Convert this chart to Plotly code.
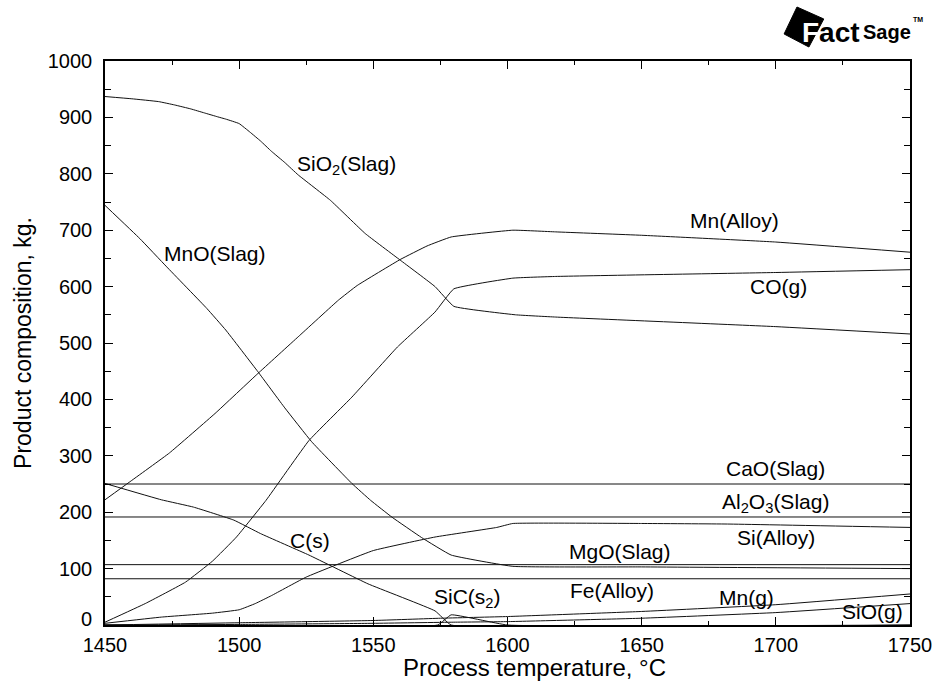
import plotly.graph_objects as go

# ---------------- data ----------------
sio2_t = [1450, 1460, 1470, 1476, 1482, 1487, 1492, 1495, 1500, 1504, 1508, 1512, 1517, 1522, 1534, 1547, 1560, 1573, 1580, 1603, 1618, 1700, 1750]
sio2_v = [937, 933, 928, 922, 915, 908, 901, 897, 889, 874, 858, 840, 820, 798, 753, 694, 647, 600, 565, 550, 546, 529, 516]

mnal_t = [1450, 1459, 1474, 1491, 1507, 1522, 1537, 1544, 1560, 1570, 1579, 1602, 1618, 1650, 1700, 1750]
mnal_v = [222, 253, 305, 375, 446, 511, 576, 602, 648, 672, 688, 700, 697, 691, 679, 661]

co_t = [1450, 1465, 1480, 1490, 1499, 1510, 1526, 1542, 1559, 1573, 1580, 1602, 1618, 1700, 1750]
co_v = [5, 38, 76, 113, 156, 221, 327, 404, 493, 555, 596, 615, 618, 625, 630]

mno_t = [1450, 1463, 1473, 1488, 1495, 1507, 1517, 1527, 1542, 1549, 1557, 1568, 1579, 1602, 1650, 1750]
mno_v = [744, 685, 635, 561, 523, 449, 385, 325, 251, 221, 191, 155, 124, 104, 103, 100]

cs_t = [1450, 1471, 1483, 1498, 1508, 1526, 1548, 1573, 1579, 1750]
cs_v = [251, 222, 209, 186, 162, 124, 73, 25, 0, 0]

sic_t = [1450, 1574, 1579, 1600, 1750]
sic_v = [0, 0, 18, 0, 0]

si_t = [1450, 1471, 1490, 1500, 1506, 1512, 1525, 1550, 1573, 1596, 1602, 1650, 1682, 1750]
si_v = [3, 14, 21, 27, 38, 52, 85, 132, 156, 173, 180, 180, 179, 173]

mng_t = [1450, 1500, 1550, 1575, 1600, 1650, 1700, 1750]
mng_v = [0, 4, 8, 12, 15, 24, 36, 55]

siog_t = [1450, 1500, 1550, 1580, 1600, 1650, 1700, 1750]
siog_v = [0, 1, 3, 5, 6, 12, 22, 38]

flat_t = [1450, 1750]
cao_v = [250, 250]
al2o3_v = [191.5, 191.5]
mgo_v = [107, 107]
fe_v = [82, 82]

x_ticks = [1450, 1500, 1550, 1600, 1650, 1700, 1750]
y_ticks = [0, 100, 200, 300, 400, 500, 600, 700, 800, 900, 1000]
y_tick_text = ["", "100", "200", "300", "400", "500", "600", "700", "800", "900", "1000"]

series = [
    ("SiO2(Slag)", sio2_t, sio2_v),
    ("Mn(Alloy)", mnal_t, mnal_v),
    ("CO(g)", co_t, co_v),
    ("MnO(Slag)", mno_t, mno_v),
    ("C(s)", cs_t, cs_v),
    ("SiC(s2)", sic_t, sic_v),
    ("Si(Alloy)", si_t, si_v),
    ("Mn(g)", mng_t, mng_v),
    ("SiO(g)", siog_t, siog_v),
    ("CaO(Slag)", flat_t, cao_v),
    ("Al2O3(Slag)", flat_t, al2o3_v),
    ("MgO(Slag)", flat_t, mgo_v),
    ("Fe(Alloy)", flat_t, fe_v),
]

# labels: (text, x, y)
labels = [
    ("SiO<sub>2</sub>(Slag)", 1540, 815),
    ("MnO(Slag)", 1491, 659),
    ("Mn(Alloy)", 1684.5, 717),
    ("CO(g)", 1701, 600),
    ("CaO(Slag)", 1700, 278),
    ("Al<sub>2</sub>O<sub>3</sub>(Slag)", 1700, 216),
    ("Si(Alloy)", 1700, 155),
    ("MgO(Slag)", 1642, 131),
    ("Fe(Alloy)", 1639, 62),
    ("Mn(g)", 1689, 49),
    ("SiO(g)", 1736, 24),
    ("SiC(s<sub>2</sub>)", 1585, 47),
    ("C(s)", 1526.5, 149),
]

FONT = "Arial, 'Liberation Sans', Helvetica, sans-serif"

fig = go.Figure()
for name, t, v in series:
    fig.add_trace(go.Scatter(x=t, y=v, mode="lines", name=name,
                             line=dict(color="#111111", width=1, shape="spline", smoothing=0.3),
                             showlegend=False, hoverinfo="skip"))

annotations = []
for txt, lx, ly in labels:
    annotations.append(dict(x=lx, y=ly, xref="x", yref="y", text=txt,
                            showarrow=False, font=dict(family=FONT, size=21, color="black"),
                            xanchor="center", yanchor="middle"))

# layout geometry (pixels)
L, R, T, B = 105, 917, 61, 625
W, H = R - L, B - T


def px(xp):
    return (xp - L) / W


def py(yp):
    return (B - yp) / H


# "0" tick label, drawn slightly raised as in the reference
annotations.append(dict(x=px(94), y=py(619), xref="paper", yref="paper", text="0", showarrow=False,
                        font=dict(family=FONT, size=20, color="black"), xanchor="right", yanchor="middle"))

# x-axis title
annotations.append(dict(x=px(538), y=py(667), xref="paper", yref="paper",
                        text="Process temperature, °C", showarrow=False,
                        font=dict(family=FONT, size=24, color="black"), xanchor="center", yanchor="middle"))

# FactSage logo
diamond = [(803, 7), (790, 34), (815, 47), (830, 19)]
path = "M " + " L ".join(f"{px(a):.4f},{py(b):.4f}" for a, b in diamond) + " Z"
shapes = [dict(type="path", xref="paper", yref="paper", path=path,
               fillcolor="black", line=dict(color="black", width=1))]

annotations += [
    dict(x=px(806), y=py(32), xref="paper", yref="paper",
         text='<b><span style="color:white">F</span>act</b>', showarrow=False,
         font=dict(family=FONT, size=28, color="black"), xanchor="left", yanchor="middle"),
    dict(x=px(868), y=py(32), xref="paper", yref="paper", text="<b>Sage</b>", showarrow=False,
         font=dict(family=FONT, size=20, color="black"), xanchor="left", yanchor="middle"),
    dict(x=px(918), y=py(20), xref="paper", yref="paper", text="<b>TM</b>", showarrow=False,
         font=dict(family=FONT, size=7, color="black"), xanchor="left", yanchor="middle"),
]

axis_common = dict(showgrid=False, zeroline=False, showline=True, linecolor="black",
                   linewidth=1.5, mirror="allticks", ticks="inside", tickcolor="black",
                   tickwidth=1, ticklen=8,
                   tickfont=dict(family=FONT, size=20, color="black"))

fig.update_layout(
    width=944, height=692,
    margin=dict(l=L, r=944 - R, t=T, b=692 - B),
    paper_bgcolor="white", plot_bgcolor="white",
    xaxis=dict(range=[1450, 1750], tickvals=x_ticks, ticklabelstandoff=1,
               minor=dict(dtick=25, ticks="inside", ticklen=4, tickcolor="black", tickwidth=1),
               **axis_common),
    yaxis=dict(range=[0, 1000], tickvals=y_ticks, ticktext=y_tick_text, ticklabelstandoff=7,
               minor=dict(dtick=50, ticks="inside", ticklen=6, tickcolor="black", tickwidth=1),
               title=dict(text="Product composition, kg.", font=dict(family=FONT, size=23, color="black"),
                          standoff=10),
               **axis_common),
    annotations=annotations,
    shapes=shapes,
)

fig.write_html("out.html")
